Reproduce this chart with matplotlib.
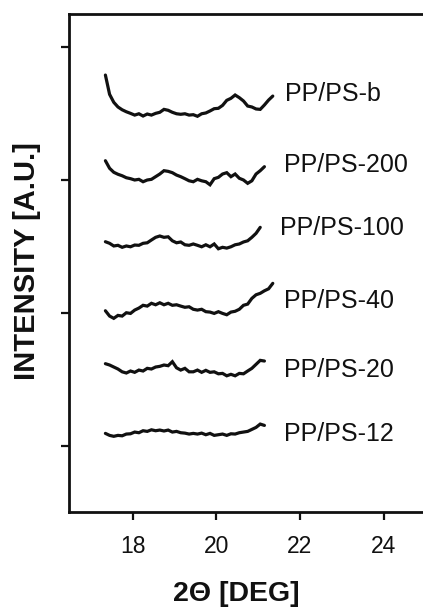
import matplotlib
matplotlib.use("Agg")
import matplotlib.pyplot as plt

plt.rcParams['font.family'] = ['Liberation Sans', 'DejaVu Sans']

# 2-theta grid (deg), step 0.1 starting at 17.35
two_theta = [17.35, 17.45, 17.55, 17.65, 17.75, 17.85, 17.95, 18.05, 18.15, 18.25,
             18.35, 18.45, 18.55, 18.65, 18.75, 18.85, 18.95, 19.05, 19.15, 19.25,
             19.35, 19.45, 19.55, 19.65, 19.75, 19.85, 19.95, 20.05, 20.15, 20.25,
             20.35, 20.45, 20.55, 20.65, 20.75, 20.85, 20.95, 21.05, 21.15, 21.25,
             21.35]

# intensities (a.u., curves already stacked)
i_b = [2.787, 2.642, 2.582, 2.547, 2.526, 2.511, 2.499, 2.486, 2.496, 2.479,
       2.494, 2.486, 2.499, 2.507, 2.529, 2.522, 2.507, 2.496, 2.492, 2.496,
       2.486, 2.489, 2.477, 2.496, 2.502, 2.517, 2.534, 2.537, 2.559, 2.597,
       2.612, 2.637, 2.617, 2.592, 2.554, 2.547, 2.532, 2.529, 2.562, 2.599,
       2.629]
i_200 = [2.143, 2.086, 2.056, 2.041, 2.030, 2.015, 2.008, 1.998, 2.003, 1.985,
         1.998, 2.003, 2.023, 2.043, 2.068, 2.063, 2.053, 2.035, 2.023, 2.008,
         1.992, 1.985, 2.003, 1.992, 1.985, 1.962, 2.008, 2.018, 2.043, 2.053,
         2.023, 2.043, 2.011, 1.998, 1.973, 1.992, 2.043, 2.068, 2.098]
i_100 = [1.534, 1.522, 1.502, 1.507, 1.492, 1.502, 1.496, 1.509, 1.507, 1.522,
         1.526, 1.547, 1.567, 1.577, 1.567, 1.571, 1.541, 1.526, 1.532, 1.511,
         1.507, 1.517, 1.507, 1.496, 1.511, 1.496, 1.517, 1.481, 1.492, 1.486,
         1.496, 1.511, 1.517, 1.532, 1.541, 1.567, 1.597, 1.642]
i_40 = [1.015, 0.975, 0.958, 0.980, 0.975, 1.000, 0.995, 1.020, 1.035, 1.056,
        1.050, 1.071, 1.060, 1.075, 1.060, 1.071, 1.056, 1.060, 1.050, 1.041,
        1.045, 1.026, 1.020, 1.026, 1.008, 1.005, 0.995, 1.008, 0.995, 0.985,
        1.005, 1.011, 1.026, 1.056, 1.065, 1.108, 1.135, 1.146, 1.165, 1.180,
        1.221]
i_20 = [0.617, 0.607, 0.592, 0.577, 0.556, 0.547, 0.562, 0.552, 0.569, 0.562,
        0.582, 0.577, 0.592, 0.597, 0.607, 0.602, 0.632, 0.586, 0.569, 0.582,
        0.556, 0.556, 0.569, 0.552, 0.567, 0.552, 0.556, 0.541, 0.544, 0.526,
        0.537, 0.526, 0.544, 0.541, 0.562, 0.582, 0.612, 0.642, 0.637]
i_12 = [0.093, 0.078, 0.071, 0.078, 0.075, 0.088, 0.090, 0.103, 0.098, 0.113,
        0.108, 0.120, 0.113, 0.118, 0.111, 0.118, 0.103, 0.108, 0.098, 0.095,
        0.088, 0.093, 0.088, 0.095, 0.083, 0.093, 0.078, 0.083, 0.088, 0.078,
        0.090, 0.088, 0.098, 0.103, 0.108, 0.123, 0.138, 0.163, 0.153]

curves = [i_b, i_200, i_100, i_40, i_20, i_12]
labels = ['PP/PS-b', 'PP/PS-200', 'PP/PS-100', 'PP/PS-40', 'PP/PS-20', 'PP/PS-12']
label_x = [21.64, 21.62, 21.52, 21.62, 21.62, 21.62]
label_y = [2.594, 2.060, 1.584, 1.033, 0.514, 0.038]

fig = plt.figure(figsize=(4.23, 6.09), dpi=100)
ax = fig.add_axes([69 / 423, 97 / 609, 1 - 69 / 423, 498 / 609])

for y, lab, lx, ly in zip(curves, labels, label_x, label_y):
    ax.plot(two_theta[:len(y)], y, color='#111111', lw=2.3, solid_joinstyle='miter',
            solid_capstyle='round')
    ax.text(lx, ly, lab, fontsize=18, va='baseline', ha='left', color='#111111')

ax.set_xlim(16.48, 24.94)
ax.set_ylim(-0.498, 3.246)
ax.set_xticks([18, 20, 22, 24])
ax.set_yticks([0, 1, 2, 3])
ax.set_yticklabels([])
ax.spines['right'].set_visible(False)
for s in ['left', 'top', 'bottom']:
    ax.spines[s].set_linewidth(2.0)
    ax.spines[s].set_color('#111111')
ax.tick_params(axis='x', direction='out', length=6, width=1.6, pad=10.5,
               labelsize=16.5, colors='#111111')
ax.tick_params(axis='y', direction='out', length=5.5, width=1.6, colors='#111111')

ax.set_xlabel('2\u0398 [DEG]', fontsize=20.5, fontweight='bold', color='#111111',
              va='baseline')
ax.xaxis.set_label_coords(0.473, -0.179)
ax.set_ylabel('INTENSITY [A.U.]', fontsize=21, fontweight='bold', color='#111111')
ax.yaxis.set_label_coords(-0.079, 0.504)

fig.savefig('out.png', dpi=100)
